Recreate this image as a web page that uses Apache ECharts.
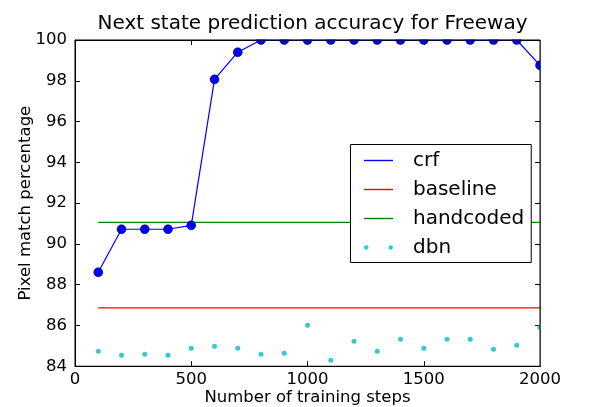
<!DOCTYPE html>
<html>
<head>
<meta charset="utf-8">
<script src="https://cdn.jsdelivr.net/npm/echarts@6/dist/echarts.min.js"></script>
<style>html,body{margin:0;padding:0;background:#fff;}#c{width:600px;height:407px;}</style>
</head>
<body>
<div id="c"></div>
<script>
const steps = [100,200,300,400,500,600,700,800,900,1000,1100,1200,1300,1400,1500,1600,1700,1800,1900,2000];
const crf = [88.61,90.72,90.72,90.72,90.91,98.07,99.40,100,100,100,100,100,100,100,100,100,100,100,100,98.76];
const dbn = [84.73,84.54,84.59,84.54,84.88,84.98,84.88,84.59,84.64,86.01,84.29,85.22,84.73,85.32,84.88,85.32,85.32,84.83,85.03,85.91];
const baselineValue = 86.86;
const handcodedValue = 91.06;
const lineSpan = [100, 2000];
const xTicks = [0, 500, 1000, 1500, 2000];
const yTicks = [84, 86, 88, 90, 92, 94, 96, 98, 100];
const seriesNames = ['crf', 'baseline', 'handcoded', 'dbn'];

const FONT = 'DejaVu Sans';
const chart = echarts.init(document.getElementById('c'), null, {renderer: 'canvas'});
const G = {left: 75, top: 40, width: 465, height: 326.25};

function pairs(xs, ys) { return xs.map((x, i) => [x, ys[i]]); }

const lineIcon = 'path://M0,0H29V1.4H0Z';
const dotIcon = 'path://M0,2.25a2.25,2.25 0 1 0 4.5,0a2.25,2.25 0 1 0 -4.5,0ZM24.5,2.25a2.25,2.25 0 1 0 4.5,0a2.25,2.25 0 1 0 -4.5,0Z';

const xAxisBase = {
  type: 'value', min: xTicks[0], max: xTicks[xTicks.length-1], interval: 500,
  splitLine: {show: false},
  axisLine: {show: true, onZero: false, lineStyle: {color: '#000', width: 1}},
  axisTick: {show: true, inside: true, length: 5, lineStyle: {color: '#000'}}
};
const yAxisBase = {
  type: 'value', min: yTicks[0], max: yTicks[yTicks.length-1], interval: 2,
  splitLine: {show: false},
  axisLine: {show: true, onZero: false, lineStyle: {color: '#000', width: 1}},
  axisTick: {show: true, inside: true, length: 5, lineStyle: {color: '#000'}}
};
const plain = v => String(v);

chart.setOption({
  animation: false,
  backgroundColor: '#fff',
  textStyle: {fontFamily: FONT},
  title: {
    text: 'Next state prediction accuracy for Freeway',
    left: 307.5, textAlign: 'center', top: 9, z: 20,
    textStyle: {fontFamily: FONT, fontSize: 20, fontWeight: 'normal', color: '#000'}
  },
  grid: {left: G.left, top: G.top, width: G.width, height: G.height, show: false, containLabel: false, outerBoundsMode: 'none'},
  xAxis: [
    Object.assign({}, xAxisBase, {
      position: 'bottom',
      name: 'Number of training steps', nameLocation: 'middle', nameGap: 23, nameMoveOverlap: false,
      nameTextStyle: {fontFamily: FONT, fontSize: 16.5, color: '#000'},
      axisLabel: {show: true, margin: 5, fontFamily: FONT, fontSize: 16.5, color: '#000', formatter: plain}
    }),
    Object.assign({}, xAxisBase, {position: 'top', axisLabel: {show: false}})
  ],
  yAxis: [
    Object.assign({}, yAxisBase, {
      position: 'left',
      name: 'Pixel match percentage', nameLocation: 'middle', nameGap: 41, nameMoveOverlap: false,
      nameTextStyle: {fontFamily: FONT, fontSize: 16.5, color: '#000'},
      axisLabel: {show: true, margin: 8, fontFamily: FONT, fontSize: 16.5, color: '#000', formatter: plain}
    }),
    Object.assign({}, yAxisBase, {position: 'right', axisLabel: {show: false}})
  ],
  legend: {
    orient: 'vertical', left: 350.5, top: 144.5,
    padding: [6, 7, 5, 13.5],
    itemGap: 9, itemWidth: 29, itemHeight: 4.5,
    symbolKeepAspect: true,
    borderColor: '#000', borderWidth: 1, borderRadius: 0, backgroundColor: '#fff',
    itemStyle: {borderWidth: 0},
    textStyle: {fontFamily: FONT, fontSize: 20, color: '#000', lineHeight: 20, padding: [0, 0, 0, 15]},
    selectedMode: false,
    z: 8,
    data: [
      {name: seriesNames[0], icon: lineIcon},
      {name: seriesNames[1], icon: lineIcon},
      {name: seriesNames[2], icon: lineIcon},
      {name: seriesNames[3], icon: dotIcon}
    ]
  },
  series: [
    {
      name: seriesNames[0], type: 'line', data: pairs(steps, crf),
      color: '#0000ff', symbol: 'circle', symbolSize: 9, showSymbol: true,
      lineStyle: {color: '#0000ff', width: 1.2},
      itemStyle: {color: '#0000ff', borderColor: '#000', borderWidth: 0.5},
      clip: false, z: 3
    },
    {
      name: seriesNames[1], type: 'line', data: lineSpan.map(x => [x, baselineValue]),
      color: '#ff0000', symbol: 'none', lineStyle: {color: '#ff0000', width: 1.2}, z: 2
    },
    {
      name: seriesNames[2], type: 'line', data: lineSpan.map(x => [x, handcodedValue]),
      color: '#008000', symbol: 'none', lineStyle: {color: '#008000', width: 1.2}, z: 2
    },
    {
      name: seriesNames[3], type: 'scatter', data: pairs(steps, dbn),
      color: '#00bfbf', symbol: 'circle', symbolSize: 5,
      itemStyle: {color: '#00bfbf'}, clip: false, z: 2
    }
  ],
  graphic: [
    {type: 'rect', z: 5, silent: true, shape: {x: 70, y: 0, width: 480, height: 39.5}, style: {fill: '#fff'}},
    {type: 'rect', z: 5, silent: true, shape: {x: 540.5, y: 30, width: 59.5, height: 336}, style: {fill: '#fff'}},
    {type: 'rect', z: 6, silent: true, shape: {x: G.left, y: G.top, width: G.width, height: G.height}, style: {fill: null, stroke: '#000', lineWidth: 1}}
  ]
});
</script>
</body>
</html>
